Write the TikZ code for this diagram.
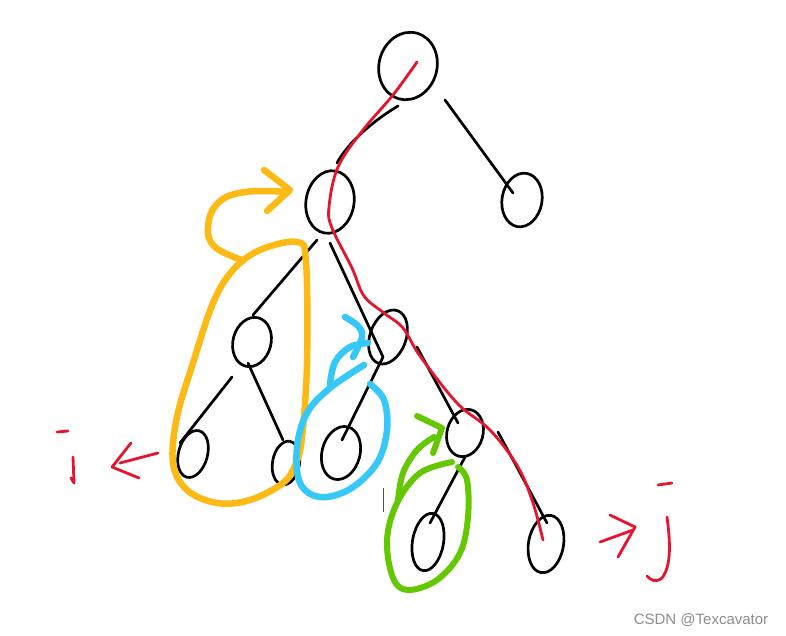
\documentclass[tikz,border=0pt]{standalone}
\usepackage{fontspec}
\setmainfont{Liberation Sans}
\usetikzlibrary{shapes.geometric,calc}
\definecolor{penred}{RGB}{230,20,45}
\definecolor{penyellow}{RGB}{253,185,20}
\definecolor{penblue}{RGB}{55,200,250}
\definecolor{pengreen}{RGB}{100,200,0}
\definecolor{wmgray}{RGB}{140,140,140}
\tikzset{
  tnode/.style={ellipse,draw=black,line width=2.7pt,inner sep=0pt},
  tedge/.style={draw=black,line width=2.7pt,line cap=round},
  redpen/.style={draw=penred,line width=2.8pt,line cap=round,line join=round},
  yelpen/.style={draw=penyellow,line width=6.5pt,line cap=round,line join=round},
  bluepen/.style={draw=penblue,line width=6.5pt,line cap=round,line join=round},
  greenpen/.style={draw=pengreen,line width=6pt,line cap=round,line join=round}
}
\begin{document}
\begin{tikzpicture}[x=1pt,y=-1pt]
\useasboundingbox (0,0) rectangle (786,635);
% nodes
\node[tnode,minimum width=58pt,minimum height=68pt,rotate=-15] (root) at (408,66) {};
\node[tnode,minimum width=48pt,minimum height=63pt,rotate=-10] (A) at (330,202) {};
\node[tnode,minimum width=40pt,minimum height=54pt,rotate=-10] (B) at (522,200) {};
\node[tnode,minimum width=38pt,minimum height=50pt,rotate=-15] (C) at (252,342) {};
\node[tnode,minimum width=36pt,minimum height=56pt,rotate=-20] (D) at (388,337) {};
\node[tnode,minimum width=29pt,minimum height=48pt,rotate=-15] (E) at (193,454) {};
\node[tnode,minimum width=27pt,minimum height=44pt,rotate=-10] (F) at (286,463) {};
\node[tnode,minimum width=38pt,minimum height=54pt,rotate=-15] (G) at (341,453) {};
\node[tnode,minimum width=36pt,minimum height=48pt,rotate=-15] (H) at (465,433) {};
\node[tnode,minimum width=31pt,minimum height=58pt,rotate=-10] (I) at (428,542) {};
\node[tnode,minimum width=35pt,minimum height=58pt,rotate=-10] (J) at (546,544) {};
% edges
\draw[tedge] ($(root)+(37,34)$) -- ($(B)+(-9,-7)$);
\draw[tedge] ($(root)+(-10,40)$) .. controls ($(root)+(-40,58)$) and ($(root)+(-62,80)$) .. ($(A)+(7,-39)$);
\draw[tedge] ($(A)+(-13,38)$) -- ($(C)+(1,-27)$);
\draw[tedge] ($(A)+(0,41)$) -- ($(D)+(-5,20)$);
\draw[tedge] ($(C)+(-20,35)$) -- ($(E)+(-13,-11)$);
\draw[tedge] ($(C)+(-4,21)$) -- ($(F)+(-3,-23)$);
\draw[tedge] ($(D)+(-5,20)$) -- ($(G)+(1,-13)$);
\draw[tedge] ($(D)+(29,10)$) -- ($(H)+(-7,-10)$);
\draw[tedge] ($(H)+(0,24)$) -- ($(I)+(2,-19)$);
\draw[tedge] ($(H)+(33,-1)$) -- ($(J)+(1,-21)$);
% red search path
\draw[redpen] plot[smooth,tension=0.6] coordinates {(417,62) (393,95) (363,130) (338,167) (329,207) (332,228) (352,268) (364,296) (384,313) (403,328) (420,356) (457,403) (490,430) (518,467) (533,503) (543,540)};
% yellow
\draw[yelpen] plot[smooth cycle,tension=0.6] coordinates {(297,242) (306,262) (307,363) (302,437) (296,463) (283,483) (250,500) (217,503) (187,490) (173,463) (177,417) (193,363) (213,303) (233,270) (260,250)};
\draw[yelpen] plot[smooth,tension=0.7] coordinates {(242,260) (215,247) (208,227) (218,203) (245,192) (288,192)};
\draw[yelpen] (264,170) -- (290,190) -- (267,211);
% blue
\draw[bluepen] plot[smooth,tension=0.6] coordinates {(370,384) (384,400) (387,430) (377,463) (350,489) (320,497) (300,483) (297,447) (307,413) (330,388) (364,365)};
\draw[bluepen] plot[smooth,tension=0.6] coordinates {(330,384) (335,362) (350,347) (368,343)};
\draw[bluepen] plot[smooth,tension=0.6] coordinates {(345,317) (358,326) (362,337) (353,357)};
% green
\draw[greenpen] plot[smooth,tension=0.6] coordinates {(452,462) (420,473) (397,503) (387,540) (393,578) (408,590) (437,580) (460,553) (468,517) (467,480) (458,467)};
\draw[greenpen] plot[smooth,tension=0.6] coordinates {(398,500) (403,473) (417,450) (434,437)};
\draw[greenpen] (417,416) -- (442,428) -- (433,453);
% cursor mark
\draw[black!70,line width=1pt] (383,488) -- (383,512);
% i and arrow
\draw[redpen] (57,432) -- (68,431);
\draw[redpen] (73,457) -- (74,483) -- (71,478);
\draw[redpen] (158,453) -- (120,463);
\draw[redpen] (131,443) -- (112,467) -- (139,478);
% j and arrow
\draw[redpen] (658,485) -- (672,483);
\draw[redpen] (667,517) .. controls (670,540) and (672,565) .. (662,578) .. controls (656,583) and (650,580) .. (647,576);
\draw[redpen] (600,542) -- (633,530);
\draw[redpen] (610,515) -- (635,527) -- (618,557);
% watermark
\node[text=wmgray,font=\fontsize{15}{18}\selectfont,inner sep=0pt] (wm) at (701,620) {CSDN @Texcavator};
\end{tikzpicture}
\end{document}
